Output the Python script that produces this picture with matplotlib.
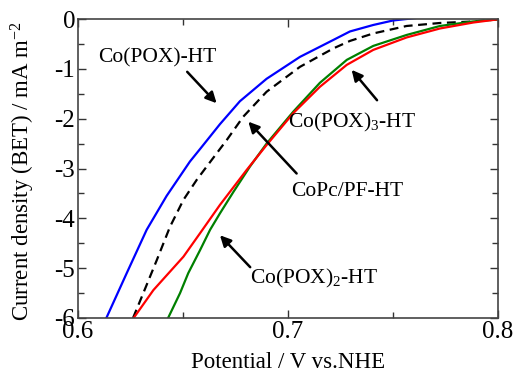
import matplotlib
matplotlib.use('Agg')
import matplotlib.pyplot as plt
from matplotlib.ticker import MultipleLocator

plt.rcParams['font.family'] = ['Liberation Serif', 'DejaVu Serif']
plt.rcParams['mathtext.fontset'] = 'custom'
plt.rcParams['mathtext.rm'] = 'Liberation Serif'
plt.rcParams['mathtext.it'] = 'Liberation Serif:italic'

# curves (potential V, current density mA m^-2)
blue_x = [0.6135, 0.6232, 0.6327, 0.6422, 0.6533, 0.6581, 0.6676, 0.6771, 0.6898, 0.7057, 0.7216, 0.7295, 0.7406, 0.7500, 0.7630]
blue_y = [-6.00, -5.10, -4.23, -3.55, -2.86, -2.61, -2.11, -1.65, -1.20, -0.76, -0.42, -0.25, -0.12, -0.03, 0.03]

black_x = [0.6262, 0.6311, 0.6375, 0.6438, 0.6502, 0.6565, 0.6613, 0.6708, 0.6787, 0.6898, 0.7057, 0.7216, 0.7295, 0.7406, 0.7565, 0.7724, 0.7880, 0.7994]
black_y = [-6.00, -5.50, -4.84, -4.17, -3.63, -3.23, -2.96, -2.43, -1.96, -1.46, -0.96, -0.59, -0.44, -0.29, -0.14, -0.08, -0.05, -0.01]

red_x = [0.6265, 0.6359, 0.6438, 0.6502, 0.6581, 0.6676, 0.6803, 0.6898, 0.7025, 0.7152, 0.7280, 0.7406, 0.7565, 0.7724, 0.7883, 0.7994]
red_y = [-6.00, -5.44, -5.07, -4.77, -4.30, -3.73, -3.03, -2.53, -1.89, -1.36, -0.92, -0.62, -0.37, -0.19, -0.07, -0.01]

green_x = [0.6429, 0.6486, 0.6525, 0.6581, 0.6629, 0.6676, 0.6740, 0.6819, 0.6898, 0.7025, 0.7152, 0.7280, 0.7406, 0.7565, 0.7724, 0.7880, 0.7994]
green_y = [-6.00, -5.50, -5.10, -4.64, -4.23, -3.90, -3.47, -2.96, -2.50, -1.86, -1.28, -0.82, -0.54, -0.32, -0.14, -0.05, -0.01]

labels = ['Co(POX)-HT', 'Co(POX)$_3$-HT', 'CoPc/PF-HT', 'Co(POX)$_2$-HT']
label_pos = [(0.6376, -0.88), (0.7305, -2.17), (0.7281, -3.55), (0.7124, -5.30)]
arrow_tail = [(0.6520, -1.06), (0.7424, -1.63), (0.7041, -3.10), (0.6820, -4.98)]
arrow_head = [(0.6660, -1.69), (0.7303, -1.02), (0.6811, -2.06), (0.6676, -4.34)]

fig = plt.figure(figsize=(5.15, 3.74), dpi=100)
ax = fig.add_axes([78 / 515, 56 / 374, 420 / 515, 299 / 374])

ax.plot(blue_x, blue_y, color='#0000ff', lw=1.6)
ax.plot(black_x, black_y, color='black', lw=1.6, ls=(0, (4, 2.5)))
ax.plot(green_x, green_y, color='#008000', lw=1.6)
ax.plot(red_x, red_y, color='#ff0000', lw=1.6)

for txt, pos, tail, head in zip(labels, label_pos, arrow_tail, arrow_head):
    ax.text(pos[0], pos[1], txt, fontsize=15.5, ha='center', va='baseline')
    ax.annotate('', xy=head, xytext=tail,
                arrowprops=dict(arrowstyle='-|>', color='black', lw=1.8,
                                mutation_scale=16, shrinkA=0, shrinkB=0))

ax.set_xlim(0.6, 0.8)
ax.set_ylim(-6, 0)
ax.xaxis.set_major_locator(MultipleLocator(0.1))
ax.xaxis.set_minor_locator(MultipleLocator(0.05))
ax.yaxis.set_major_locator(MultipleLocator(1))
ax.yaxis.set_minor_locator(MultipleLocator(0.5))
ax.xaxis.set_major_formatter(plt.FuncFormatter(lambda v, p: f'{v:.1f}'))
ax.yaxis.set_major_formatter(plt.FuncFormatter(lambda v, p: f'{int(round(v))}'))

ax.tick_params(which='both', direction='in', top=True, right=True, labelsize=18,
               colors='#333333', labelcolor='black')
ax.tick_params(which='major', length=6, width=1)
ax.tick_params(which='minor', length=4, width=1)
ax.tick_params(axis='x', pad=2)
ax.tick_params(axis='y', pad=2)
for s in ax.spines.values():
    s.set_color('#444444')
    s.set_linewidth(1.2)

ax.set_xlabel('Potential / V vs.NHE', fontsize=16.5)
ax.set_ylabel('Current density (BET) / mA m$^{-2}$', fontsize=16.5)
ax.xaxis.set_label_coords(0.5, -0.115)
ax.yaxis.set_label_coords(-0.098, 0.49)

fig.savefig('out.png', dpi=100)
